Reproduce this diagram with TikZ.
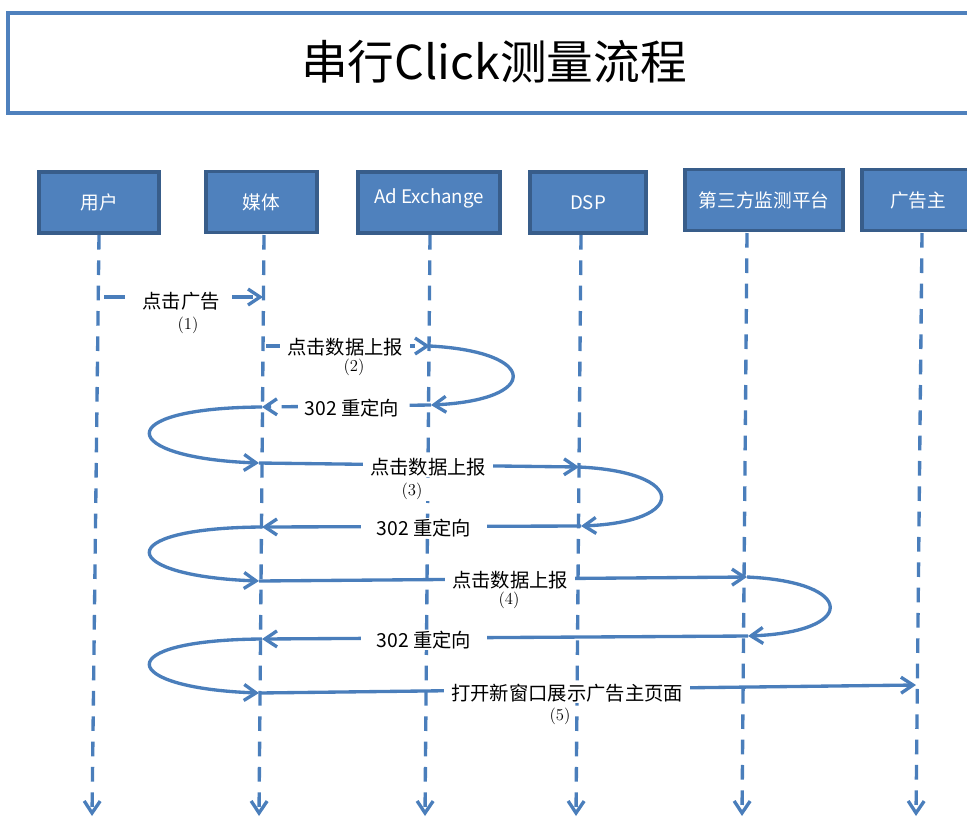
\documentclass[tikz,border=0pt]{standalone}
\usepackage{fontspec}
\newfontfamily\cjk{Noto Sans CJK SC}
\usetikzlibrary{arrows.meta}
\definecolor{lb}{HTML}{4A7EBB}
\definecolor{bf}{HTML}{4F81BD}
\definecolor{bd}{HTML}{385D8A}
\tikzset{
  actor/.style={draw=bd, fill=bf, line width=2.6pt, text=white, inner sep=0pt,
    font=\cjk\fontsize{14}{16}\selectfont, minimum height=45.75pt},
  lifeline/.style={draw=lb, line width=2.5pt, dash pattern=on 11pt off 8pt,
    -{Straight Barb[length=9pt,width=12pt]}},
  msg/.style={draw=lb, line width=2.5pt, -{Straight Barb[length=9pt,width=12pt]}},
  dmsg/.style={msg, dash pattern=on 16pt off 8pt},
  lab/.style={fill=white, inner xsep=5pt, inner ysep=1pt, font=\cjk\fontsize{14.5}{16}\selectfont},
  num/.style={inner sep=1pt, font=\fontsize{12.5}{14}\selectfont},
}
\begin{document}
\begin{tikzpicture}[x=0.75pt,y=-0.75pt]
\useasboundingbox (0,0) rectangle (967,818);
% title
\node[draw=bf, line width=2.6pt, minimum width=735pt, minimum height=75pt, inner sep=0pt] (title) at (498,63) {};
\node[font=\cjk\fontsize{35}{40}\selectfont] (tt) at (494,62) {串行Click测量流程};
% actors
\node[actor, minimum width=90pt] (u) at (99,202.5) {用户};
\node[actor, minimum width=83.25pt] (m) at (261.5,202) {媒体};
\node[actor, minimum width=106.5pt, text depth=9pt] (ax) at (429,202.5) {Ad Exchange};
\node[actor, minimum width=87pt] (dsp) at (588,202.5) {DSP};
\node[actor, minimum width=118.5pt] (tp) at (764,200) {第三方监测平台};
\node[actor, minimum width=88.5pt] (ad) at (921,200) {};
\node[font=\cjk\fontsize{14}{16}\selectfont, text=white] (adt) at (918,200) {广告主};
% lifeline ends
\coordinate (ut) at (99,235);   \coordinate (ub) at (92,816);
\coordinate (mt) at (264,235);  \coordinate (mb) at (259,816);
\coordinate (axt) at (430,235); \coordinate (axb) at (425,816);
\coordinate (dt) at (581,235);  \coordinate (db) at (576,816);
\coordinate (tpt) at (747,233); \coordinate (tpb) at (742,816);
\coordinate (adtp) at (922,233); \coordinate (adb) at (916,816);
\draw[lifeline] (ut) -- (ub);
\draw[lifeline] (mt) -- (mb);
\draw[lifeline] (axt) -- (axb);
\draw[lifeline] (dt) -- (db);
\draw[lifeline] (tpt) -- (tpb);
\draw[lifeline] (adtp) -- (adb);
% message points
\coordinate (u1) at (104,297);  \coordinate (m1) at (263,297);
\coordinate (m2) at (266,346);  \coordinate (ax2) at (430,346);
\coordinate (ax3) at (431,405); \coordinate (m3) at (262,407);
\coordinate (m4) at (259,463);  \coordinate (d4) at (579,467);
\coordinate (d5) at (581,526);  \coordinate (m5) at (262,527);
\coordinate (m6) at (259,581);  \coordinate (tp6) at (747,577);
\coordinate (tp7) at (748,636); \coordinate (m7) at (262,639);
\coordinate (m8) at (259,693);  \coordinate (ad8) at (916,685);
% messages
\draw[dmsg] (u1) -- (m1);
\draw[dmsg] (m2) -- (ax2);
\draw[msg] (ax2) .. controls (540,352) and (540,400) .. (ax3);
\draw[dmsg] (ax3) -- (m3);
\draw[msg] (m3) .. controls (108,408) and (118,458) .. (m4);
\draw[msg] (m4) -- (d4);
\draw[msg] (d4) .. controls (688,472) and (688,522) .. (d5);
\draw[msg] (d5) -- (m5);
\draw[msg] (m5) .. controls (108,528) and (118,576) .. (m6);
\draw[msg] (m6) -- (tp6);
\draw[msg] (tp6) .. controls (857,582) and (857,632) .. (tp7);
\draw[msg] (tp7) -- (m7);
\draw[msg] (m7) .. controls (108,640) and (118,688) .. (m8);
\draw[msg] (m8) -- (ad8);
% labels
\node[lab] (l1) at (181,301) {点击广告};
\node[num] (n1) at (188,325) {(1)};
\node[lab] (l2) at (345,347) {点击数据上报};
\node[num] (n2) at (354,367) {(2)};
\node[lab] (l3) at (352,408) {302 重定向};
\node[lab] (l4) at (428,467) {点击数据上报};
\node[num, fill=white, inner xsep=8pt] (n3) at (412,491) {(3)};
\node[lab, inner xsep=12pt] (l5) at (424,528) {302 重定向};
\node[lab] (l6) at (510,580) {点击数据上报};
\node[num, fill=white] (n4) at (509,600) {(4)};
\node[lab, inner xsep=12pt] (l7) at (424,640) {302 重定向};
\node[lab] (l8) at (567,693) {打开新窗口展示广告主页面};
\node[num, fill=white] (n5) at (560,716) {(5)};
\end{tikzpicture}
\end{document}
